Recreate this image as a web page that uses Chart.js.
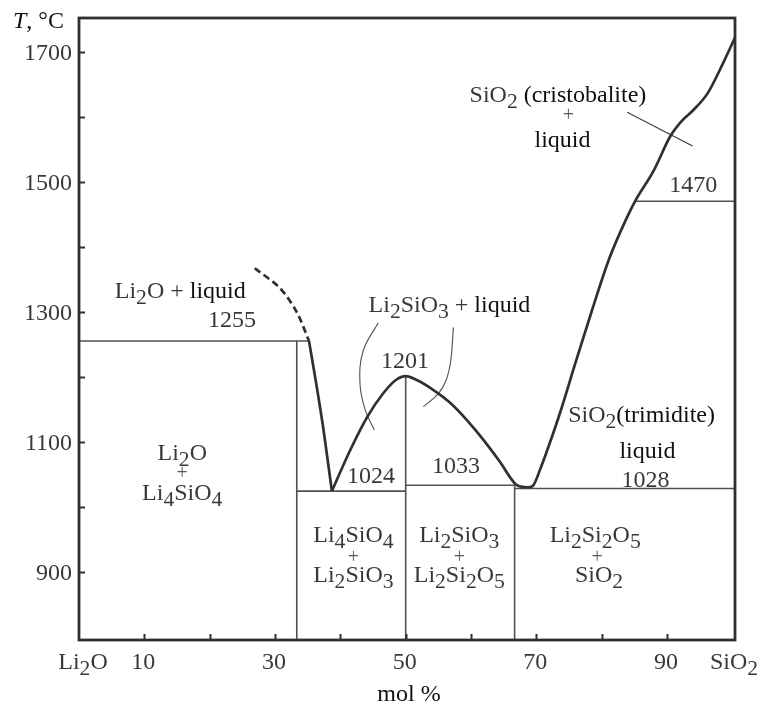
<!DOCTYPE html>
<html>
<head>
<meta charset="utf-8">
<title>Li2O–SiO2 phase diagram</title>
<script src="https://cdn.jsdelivr.net/npm/chart.js@4.4.1/dist/chart.umd.min.js"></script>
<style>
  html, body { margin: 0; padding: 0; background: #fff; }
  canvas { display: block; }
</style>
</head>
<body>
<canvas id="diagram" width="761" height="706"></canvas>
<script>
// composition in mol % SiO2, temperature in °C
const liquidusDashed = [[26.9, 1367], [30.8, 1336], [33.4, 1298], [35.2, 1255]];
const liquidusLi2O = [[35.2, 1255], [36.3, 1190], [37.4, 1120], [38.7, 1024]];
const liquidusMain = [
  [38.7, 1024], [41.5, 1087], [44.1, 1138], [46.6, 1175], [48.5, 1195], [50, 1201],
  [51.7, 1195], [54.2, 1180], [56.8, 1160], [59.4, 1133], [61.9, 1103], [64.5, 1068],
  [66.0, 1045], [66.9, 1034], [67.8, 1030.5], [68.8, 1030], [69.6, 1034], [70.6, 1058],
  [71.7, 1088], [73.7, 1147], [76.0, 1222], [78.6, 1305], [81.2, 1383], [84.0, 1448],
  [85.1, 1470], [88.0, 1518], [90.5, 1570], [92.3, 1594], [94.0, 1610], [96.2, 1636],
  [98.6, 1683], [100.4, 1722]
];

// solidus / compound lines
const line1255 = [[0, 1255], [35.2, 1255]];
const line1024 = [[33.33, 1024], [50, 1024]];
const line1033 = [[50, 1033], [66.67, 1033]];
const line1028 = [[66.67, 1028], [100.4, 1028]];
const line1470 = [[85.1, 1470], [100.4, 1470]];
const compLi4SiO4 = [[33.33, 795], [33.33, 1255]];
const compLi2SiO3 = [[50, 795], [50, 1201]];
const compLi2Si2O5 = [[66.67, 795], [66.67, 1033]];

// pointer lines from the field labels
const pointerLeft = [[45.8, 1283], [43.5, 1240], [43.0, 1190], [43.8, 1149], [45.2, 1118]];
const pointerRight = [[57.3, 1276], [56.9, 1225], [56.2, 1195], [55.0, 1174], [52.7, 1154]];
const pointerCristobalite = [[83.9, 1607], [93.9, 1555]];

// axes
const xMin = 0, xMax = 100.4, yMin = 795, yMax = 1752;
const xTicks = [10, 20, 30, 40, 50, 60, 70, 80, 90];
const xTickLabels = ['10', '30', '50', '70', '90'];
const yTicks = [900, 1000, 1100, 1200, 1300, 1400, 1500, 1600, 1700];
const yTickLabels = ['900', '1100', '1300', '1500', '1700'];

// field labels: "_" = subscript next char, "*" toggles dark text
const fieldLabels = [
  ['Li_2O + *liquid*', 15.5, 1321],
  ['1255', 23.4, 1276],
  ['Li_2SiO_3 + *liquid*', 56.7, 1299],
  ['1201', 49.9, 1213],
  ['1024', 44.7, 1036],
  ['1033', 57.7, 1052],
  ['SiO_2*(trimidite)*', 86.1, 1130],
  ['*liquid*', 87.0, 1075],
  ['1028', 86.7, 1030],
  ['1470', 94.0, 1484],
  ['SiO_2 *(cristobalite)*', 73.3, 1623],
  ['*liquid*', 74.0, 1554],
  ['Li_2O', 15.8, 1072],
  ['Li_4SiO_4', 15.8, 1010],
  ['Li_4SiO_4', 42.0, 946],
  ['Li_2SiO_3', 42.0, 885],
  ['Li_2SiO_3', 58.2, 946],
  ['Li_2Si_2O_5', 58.2, 885],
  ['Li_2Si_2O_5', 79.0, 946],
  ['SiO_2', 79.6, 885]
];
const plusSigns = [[74.9, 1593], [15.8, 1043], [42.0, 913], [58.2, 913], [79.3, 913]];

const SERIF = '"Liberation Serif", "DejaVu Serif", serif';
const INK = '#303030';
const TEXT = '#383838';
const TEXT_DARK = '#101010';

function pts(arr) {
  return arr.map(([x, y]) => ({ x, y }));
}

function curve(data, opts) {
  return Object.assign({
    data: pts(data),
    borderColor: INK,
    borderWidth: 2.7,
    pointRadius: 0,
    fill: false,
    tension: 0
  }, opts);
}

// split a label into runs of plain / subscript / dark text
function parseRich(str) {
  const runs = [];
  let dark = false;
  for (let i = 0; i < str.length; i++) {
    const c = str[i];
    if (c === '*') { dark = !dark; continue; }
    if (c === '_') { runs.push({ t: str[++i], sub: true, dark }); continue; }
    const last = runs[runs.length - 1];
    if (last && !last.sub && last.dark === dark) last.t += c;
    else runs.push({ t: c, sub: false, dark });
  }
  return runs;
}

function drawRich(ctx, str, cx, base, size) {
  const runs = parseRich(str);
  const subSize = size * 0.9;
  let total = 0;
  runs.forEach(r => {
    ctx.font = `${r.sub ? subSize : size}px ${SERIF}`;
    r.w = ctx.measureText(r.t).width;
    total += r.w;
  });
  let x = cx - total / 2;
  ctx.textAlign = 'left';
  ctx.textBaseline = 'alphabetic';
  runs.forEach(r => {
    ctx.font = `${r.sub ? subSize : size}px ${SERIF}`;
    ctx.fillStyle = r.dark ? TEXT_DARK : TEXT;
    ctx.fillText(r.t, x, base + (r.sub ? 6 : 0));
    x += r.w;
  });
}

const frame = {
  id: 'frame',
  afterDraw(chart) {
    const { ctx, chartArea: a, scales: { x, y } } = chart;
    ctx.save();

    // box
    ctx.strokeStyle = INK;
    ctx.lineWidth = 2.8;
    ctx.strokeRect(a.left, a.top, a.right - a.left, a.bottom - a.top);

    // inward ticks
    ctx.lineWidth = 2;
    ctx.beginPath();
    xTicks.forEach(v => {
      const px = Math.round(x.getPixelForValue(v)) + 0.5;
      ctx.moveTo(px, a.bottom);
      ctx.lineTo(px, a.bottom - 6);
    });
    yTicks.forEach(v => {
      const py = Math.round(y.getPixelForValue(v)) + 0.5;
      ctx.moveTo(a.left, py);
      ctx.lineTo(a.left + 6, py);
    });
    ctx.stroke();

    // tick labels
    ctx.fillStyle = TEXT;
    ctx.font = `24px ${SERIF}`;
    ctx.textBaseline = 'alphabetic';
    ctx.textAlign = 'right';
    yTickLabels.forEach(t => {
      ctx.fillText(t, a.left - 7, y.getPixelForValue(Number(t)) + 8);
    });
    ctx.textAlign = 'center';
    xTickLabels.forEach(t => {
      ctx.fillText(t, x.getPixelForValue(Number(t)) - 1, a.bottom + 29);
    });
    drawRich(ctx, 'Li_2O', x.getPixelForValue(0) + 4, a.bottom + 29, 24);
    drawRich(ctx, 'SiO_2', x.getPixelForValue(100.4) - 1, a.bottom + 29, 24);

    // axis titles
    ctx.fillStyle = TEXT_DARK;
    ctx.font = `24px ${SERIF}`;
    ctx.textAlign = 'center';
    ctx.fillText('mol %', x.getPixelForValue(50.5), a.bottom + 61);
    ctx.textAlign = 'left';
    ctx.font = `italic 24px ${SERIF}`;
    ctx.fillText('T', 13, 28);
    const tw = ctx.measureText('T').width;
    ctx.font = `24px ${SERIF}`;
    ctx.fillText(', °C', 13 + tw, 28);

    // field labels
    fieldLabels.forEach(([s, vx, vy]) => {
      drawRich(ctx, s, x.getPixelForValue(vx), y.getPixelForValue(vy), 24);
    });
    ctx.fillStyle = '#5a5a5a';
    ctx.font = `20px ${SERIF}`;
    ctx.textAlign = 'center';
    plusSigns.forEach(([vx, vy]) => {
      ctx.fillText('+', x.getPixelForValue(vx), y.getPixelForValue(vy));
    });

    ctx.restore();
  }
};

new Chart(document.getElementById('diagram').getContext('2d'), {
  type: 'line',
  data: {
    datasets: [
      curve(liquidusDashed, { borderDash: [7, 4], tension: 0.3 }),
      curve(liquidusLi2O, { cubicInterpolationMode: 'monotone' }),
      curve(liquidusMain, { cubicInterpolationMode: 'monotone' }),
      curve(line1255, { borderWidth: 1.6, borderColor: '#505050' }),
      curve(line1024, { borderWidth: 1.6, borderColor: '#505050' }),
      curve(line1033, { borderWidth: 1.6, borderColor: '#505050' }),
      curve(line1028, { borderWidth: 1.6, borderColor: '#505050' }),
      curve(line1470, { borderWidth: 1.6, borderColor: '#505050' }),
      curve(compLi4SiO4, { borderWidth: 1.6, borderColor: '#505050' }),
      curve(compLi2SiO3, { borderWidth: 1.6, borderColor: '#505050' }),
      curve(compLi2Si2O5, { borderWidth: 1.6, borderColor: '#505050' }),
      curve(pointerLeft, { borderWidth: 1.1, borderColor: '#505050', tension: 0.4 }),
      curve(pointerRight, { borderWidth: 1.1, borderColor: '#505050', tension: 0.4 }),
      curve(pointerCristobalite, { borderWidth: 1.3, borderColor: '#404040' })
    ]
  },
  options: {
    responsive: false,
    devicePixelRatio: 1,
    animation: false,
    layout: { padding: { left: 0, right: 26, top: 18, bottom: 0 } },
    plugins: { legend: { display: false }, tooltip: { enabled: false } },
    scales: {
      x: {
        type: 'linear',
        min: xMin,
        max: xMax,
        grid: { display: false },
        border: { display: false },
        ticks: { display: false },
        afterFit: s => { s.height = 66; }
      },
      y: {
        type: 'linear',
        min: yMin,
        max: yMax,
        grid: { display: false },
        border: { display: false },
        ticks: { display: false },
        afterFit: s => { s.width = 79; }
      }
    }
  },
  plugins: [frame]
});
</script>
</body>
</html>
